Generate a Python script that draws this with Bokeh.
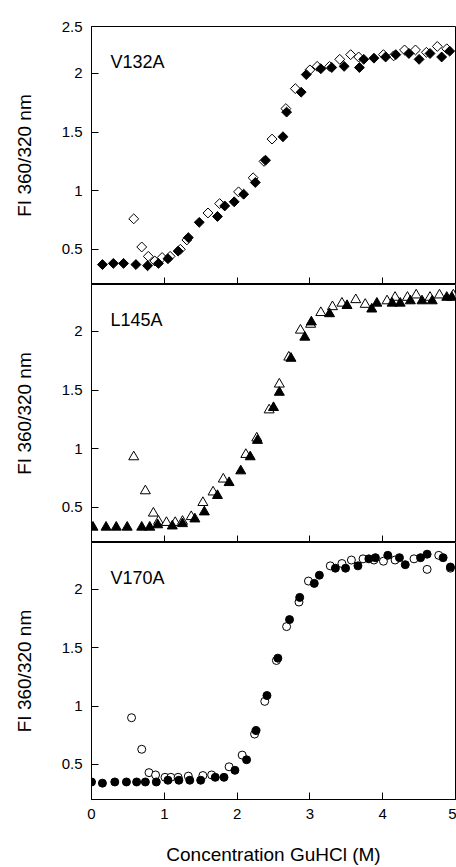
from math import pi
from bokeh.plotting import figure
from bokeh.layouts import column
from bokeh.models import FixedTicker, Range1d, Label
from bokeh.embed import file_html
from bokeh.resources import INLINE

FONT = "Liberation Sans"

x_ticks = [0, 1, 2, 3, 4, 5]
y_ticks = [0.5, 1, 1.5, 2]
y_label = "FI 360/320 nm"
x_label = "Concentration GuHCl (M)"
panel_names = ["V132A", "L145A", "V170A"]

# V132A (diamonds)
v132a_filled_x = [0.15, 0.30, 0.44, 0.61, 0.77, 0.92, 1.05, 1.19, 1.33, 1.48, 1.73, 1.83, 1.96, 2.09, 2.25,
                  2.39, 2.63, 2.68, 2.88, 2.95, 3.15, 3.30, 3.47, 3.68, 3.74, 3.88, 4.04, 4.18, 4.36, 4.50,
                  4.65, 4.81, 4.92]
v132a_filled_y = [0.37, 0.38, 0.38, 0.37, 0.36, 0.38, 0.42, 0.485, 0.60, 0.73, 0.78, 0.87, 0.905, 0.97, 1.07,
                  1.26, 1.46, 1.67, 1.84, 1.99, 2.04, 2.05, 2.06, 2.05, 2.12, 2.13, 2.14, 2.16, 2.17, 2.12,
                  2.17, 2.14, 2.19]
v132a_open_x = [0.58, 0.69, 0.78, 0.87, 0.97, 1.08, 1.22, 1.31, 1.60, 1.76, 2.02, 2.22, 2.37, 2.48, 2.67,
                2.80, 3.00, 3.10, 3.27, 3.41, 3.56, 3.67, 4.01, 4.15, 4.30, 4.45, 4.60, 4.75, 4.88]
v132a_open_y = [0.76, 0.52, 0.44, 0.40, 0.43, 0.44, 0.50, 0.58, 0.81, 0.89, 0.99, 1.11, 1.25, 1.44, 1.70,
                1.87, 2.03, 2.06, 2.06, 2.12, 2.16, 2.14, 2.16, 2.15, 2.20, 2.20, 2.18, 2.23, 2.21]

# L145A (triangles)
l145a_filled_x = [0.02, 0.20, 0.34, 0.49, 0.69, 0.80, 0.91, 1.11, 1.25, 1.42, 1.55, 1.73, 1.89, 2.05, 2.18,
                  2.28, 2.50, 2.58, 2.74, 2.93, 3.02, 3.27, 3.51, 3.85, 3.92, 4.13, 4.24, 4.38, 4.54, 4.68,
                  4.88, 4.95]
l145a_filled_y = [0.33, 0.33, 0.33, 0.33, 0.33, 0.33, 0.35, 0.34, 0.36, 0.40, 0.46, 0.60, 0.71, 0.81, 0.93,
                  1.07, 1.35, 1.48, 1.77, 1.95, 2.08, 2.15, 2.22, 2.19, 2.24, 2.24, 2.24, 2.26, 2.26, 2.26,
                  2.29, 2.29]
l145a_open_x = [0.58, 0.74, 0.85, 0.92, 1.03, 1.15, 1.25, 1.37, 1.53, 1.67, 1.81, 2.12, 2.27, 2.44, 2.58,
                2.71, 2.87, 3.01, 3.15, 3.31, 3.44, 3.63, 3.76, 4.06, 4.17, 4.34, 4.46, 4.65, 4.78, 4.97]
l145a_open_y = [0.93, 0.64, 0.45, 0.38, 0.37, 0.37, 0.38, 0.42, 0.54, 0.63, 0.74, 0.95, 1.09, 1.33, 1.55,
                1.78, 2.01, 2.06, 2.16, 2.21, 2.24, 2.27, 2.23, 2.26, 2.29, 2.29, 2.31, 2.29, 2.31, 2.31]

# V170A (circles)
v170a_filled_x = [0.00, 0.15, 0.32, 0.48, 0.62, 0.74, 0.89, 1.05, 1.20, 1.35, 1.50, 1.70, 1.82, 1.97, 2.13,
                  2.26, 2.41, 2.56, 2.72, 2.86, 3.06, 3.13, 3.35, 3.49, 3.66, 3.81, 3.90, 4.07, 4.23, 4.31,
                  4.52, 4.61, 4.83, 4.93]
v170a_filled_y = [0.35, 0.34, 0.35, 0.35, 0.35, 0.35, 0.35, 0.365, 0.365, 0.365, 0.365, 0.39, 0.39, 0.45, 0.54,
                  0.79, 1.09, 1.41, 1.74, 1.93, 2.05, 2.12, 2.18, 2.18, 2.20, 2.26, 2.27, 2.29, 2.27, 2.21,
                  2.27, 2.30, 2.27, 2.19]
v170a_open_x = [0.55, 0.69, 0.79, 0.88, 1.01, 1.09, 1.19, 1.33, 1.53, 1.65, 1.89, 2.07, 2.24, 2.38, 2.54,
                2.68, 2.85, 2.98, 3.28, 3.44, 3.57, 3.73, 3.88, 4.01, 4.17, 4.43, 4.61, 4.77, 4.93]
v170a_open_y = [0.90, 0.63, 0.43, 0.41, 0.39, 0.39, 0.39, 0.40, 0.405, 0.41, 0.48, 0.58, 0.76, 1.04, 1.39,
                1.68, 1.89, 2.07, 2.20, 2.22, 2.25, 2.26, 2.25, 2.24, 2.25, 2.26, 2.17, 2.29, 2.18]


def make_panel(height, border_top, border_bottom, bottom_labels, top_label_override=False):
    p = figure(width=456, height=height, x_range=Range1d(0, 5), y_range=Range1d(0.2, 2.4),
               output_backend="svg", toolbar_location=None,
               min_border_left=91, min_border_right=1,
               min_border_top=border_top, min_border_bottom=border_bottom)
    p.background_fill_color = "white"
    p.border_fill_color = "white"
    p.outline_line_color = "black"
    p.outline_line_width = 1
    p.xgrid.visible = False
    p.ygrid.visible = False

    xa = p.xaxis[0]
    xa.ticker = FixedTicker(ticks=x_ticks)
    xa.major_tick_in = 7
    xa.major_tick_out = 0
    xa.minor_tick_line_color = None
    xa.axis_line_color = "black"
    xa.major_tick_line_color = "black"
    if bottom_labels:
        xa.major_label_text_font = FONT
        xa.major_label_text_font_size = "15px"
        xa.major_label_text_color = "black"
        xa.major_label_standoff = 9
        xa.axis_label = x_label
        xa.axis_label_text_font = FONT
        xa.axis_label_text_font_size = "19px"
        xa.axis_label_text_font_style = "normal"
        xa.axis_label_text_color = "black"
        xa.axis_label_standoff = 22
    else:
        # inner panels show tick marks only, no tick labels
        xa.major_label_text_font_size = "0px"
        xa.major_label_text_color = None
        xa.major_label_text_alpha = 0
        xa.major_label_standoff = 0

    ya = p.yaxis[0]
    ticks = list(y_ticks)
    if top_label_override:
        ticks = ticks + [2.4]
        ya.major_label_overrides = {2.4: "2.5"}
    ya.ticker = FixedTicker(ticks=ticks)
    ya.major_tick_in = 7
    ya.major_tick_out = 0
    ya.minor_tick_line_color = None
    ya.axis_line_color = "black"
    ya.major_tick_line_color = "black"
    ya.major_label_text_font = FONT
    ya.major_label_text_font_size = "15px"
    ya.major_label_text_color = "black"
    ya.major_label_standoff = 9
    ya.axis_label = y_label
    ya.axis_label_text_font = FONT
    ya.axis_label_text_font_size = "19px"
    ya.axis_label_text_font_style = "normal"
    ya.axis_label_text_color = "black"
    ya.axis_label_standoff = 24
    return p


p1 = make_panel(284, 26, 0, False, top_label_override=True)
p2 = make_panel(258, 0, 0, False)
p3 = make_panel(325, 0, 68, True)

# V132A diamonds
p1.scatter(v132a_open_x, v132a_open_y, marker="square", angle=pi / 4, size=7,
           fill_color="white", line_color="black", line_width=1)
p1.scatter(v132a_filled_x, v132a_filled_y, marker="square", angle=pi / 4, size=7,
           fill_color="black", line_color="black", line_width=1)

# L145A triangles
p2.scatter(l145a_open_x, l145a_open_y, marker="triangle", size=10,
           fill_color="white", line_color="black", line_width=1)
p2.scatter(l145a_filled_x, l145a_filled_y, marker="triangle", size=10,
           fill_color="black", line_color="black", line_width=1)

# V170A circles
p3.scatter(v170a_open_x, v170a_open_y, marker="circle", size=8,
           fill_color="white", line_color="black", line_width=1)
p3.scatter(v170a_filled_x, v170a_filled_y, marker="circle", size=8,
           fill_color="black", line_color="black", line_width=1)

for p, name in zip([p1, p2, p3], panel_names):
    p.add_layout(Label(x=0.26, y=2.1, text=name, text_font=FONT, text_font_size="18px",
                       text_color="black", text_baseline="alphabetic", text_align="left"))

layout = column(p1, p2, p3, spacing=0)
open("out.html", "w").write(file_html(layout, INLINE))
